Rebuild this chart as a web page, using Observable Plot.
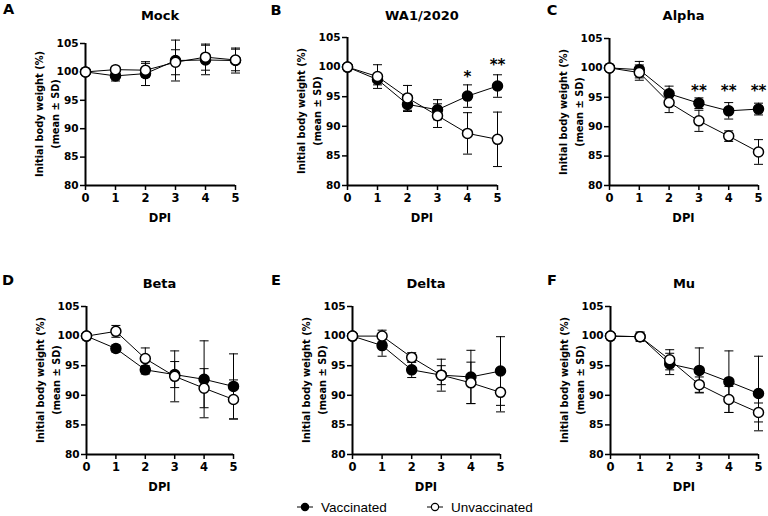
<!DOCTYPE html>
<html><head><meta charset="utf-8">
<script src="https://cdn.jsdelivr.net/npm/d3@7"></script>
<script src="https://cdn.jsdelivr.net/npm/@observablehq/plot@0.6"></script>
<style>
body{margin:0;background:#fff;}
#root{position:relative;width:768px;height:516px;overflow:hidden;background:#fff;font-family:"DejaVu Sans",sans-serif;color:#000;}
.lab{position:absolute;transform:translate(-50%,-50%);white-space:nowrap;font-weight:bold;}
.letter{font-size:14.5px;}
.title{font-size:13px;}
.dpi{font-size:11.5px;}
.ylab{position:absolute;transform:translate(-50%,-50%) rotate(-90deg);white-space:nowrap;text-align:center;font-weight:bold;font-size:9.8px;line-height:16px;}
.legend{position:absolute;top:498px;left:0;width:768px;height:18px;font-family:"Liberation Sans",Arial,sans-serif;font-size:13.5px;}
.legend .item{position:absolute;top:0;display:flex;align-items:center;height:18px;}
.legend svg{margin-right:5px;}
</style></head><body><div id="root"></div>
<script>
// ---- data ----
const days = [0, 1, 2, 3, 4, 5];
const panelTitles = ["Mock", "WA1/2020", "Alpha", "Beta", "Delta", "Mu"];
const panelLetters = ["A", "B", "C", "D", "E", "F"];
const yTicks = [80, 85, 90, 95, 100, 105];
const seriesNames = ["Vaccinated", "Unvaccinated"];

const vaccinatedMean = [
  [100, 99.3, 99.7, 102.0, 102.1, 102.0],
  [100, 97.9, 93.7, 92.8, 95.1, 96.8],
  [100, 99.7, 95.6, 94.0, 92.7, 93.0],
  [100, 97.9, 94.3, 93.5, 92.7, 91.5],
  [100, 98.4, 94.3, 93.4, 93.1, 94.1],
  [100, 99.9, 95.3, 94.2, 92.3, 90.3]
];
const vaccinatedSD = [
  [0, 0.9, 2.1, 3.6, 2.6, 2.2],
  [0, 0.9, 1.2, 1.7, 1.9, 1.9],
  [0, 1.4, 1.3, 0.9, 1.4, 1.0],
  [0, 0.6, 0.7, 2.2, 6.5, 5.5],
  [0, 1.8, 1.3, 2.7, 4.5, 5.8],
  [0, 0.8, 1.8, 3.8, 5.2, 6.3]
];
const unvaccinatedMean = [
  [100, 100.4, 100.3, 101.7, 102.6, 102.1],
  [100, 98.4, 94.8, 91.8, 88.8, 87.8],
  [100, 99.2, 94.1, 91.0, 88.4, 85.7],
  [100, 100.8, 96.2, 93.2, 91.2, 89.3],
  [100, 100.0, 96.4, 93.4, 92.1, 90.5],
  [100, 99.9, 96.0, 91.8, 89.3, 87.1]
];
const unvaccinatedSD = [
  [0, 0.5, 1.2, 2.2, 2.3, 1.9],
  [0, 2.0, 2.1, 2.0, 3.5, 4.6],
  [0, 1.3, 1.7, 1.8, 0.9, 2.1],
  [0, 1.0, 1.8, 4.3, 3.3, 3.3],
  [0, 1.0, 0.8, 1.6, 3.5, 3.3],
  [0, 0.6, 1.7, 1.3, 2.2, 1.6]
];

// significance annotations
const starPanel = [1, 1, 2, 2, 2];
const starDay = [4, 5, 3, 4, 5];
const starLabel = ["*", "**", "**", "**", "**"];
const starY = [98.9, 101.0, 96.8, 96.8, 96.8];

// ---- layout ----
const frames = [
  {left: 85, top: 43, w: 150, h: 142},
  {left: 347, top: 37, w: 150, h: 148},
  {left: 609, top: 38, w: 149, h: 147},
  {left: 86, top: 306, w: 147, h: 148},
  {left: 352, top: 306, w: 148, h: 148},
  {left: 610, top: 306, w: 148, h: 148}
];
const rowTitleY = [14.5, 14.5, 14.5, 283, 283, 283];
const letterPos = [[8.5, 9], [276, 10], [552, 10], [8, 280], [276, 280], [552, 280]];
const ML = 70, MR = 14, MT = 20, MB = 45;

const root = document.getElementById("root");
const capSymbol = {draw(ctx, size) { const r = Math.sqrt(size / Math.PI); ctx.moveTo(-r, 0); ctx.lineTo(r, 0); }};

function addLabel(cls, text, x, y) {
  const d = document.createElement("div");
  d.className = "lab " + cls;
  d.textContent = text;
  d.style.left = x + "px"; d.style.top = y + "px";
  root.appendChild(d);
}

panelTitles.forEach((title, i) => {
  const fr = frames[i];
  const rows = [];
  days.forEach((d, k) => {
    rows.push({series: seriesNames[0], day: d, mean: vaccinatedMean[i][k], sd: vaccinatedSD[i][k]});
  });
  days.forEach((d, k) => {
    rows.push({series: seriesNames[1], day: d, mean: unvaccinatedMean[i][k], sd: unvaccinatedSD[i][k]});
  });
  const vac = rows.filter(r => r.series === seriesNames[0]);
  const unv = rows.filter(r => r.series === seriesNames[1]);
  const err = rows.filter(r => r.sd > 0);
  const stars = starPanel.map((p, j) => ({p, day: starDay[j], label: starLabel[j], y: starY[j]})).filter(s => s.p === i);

  const svg = Plot.plot({
    width: ML + fr.w + MR,
    height: MT + fr.h + MB,
    marginLeft: ML, marginRight: MR, marginTop: MT, marginBottom: MB,
    x: {domain: [0, 5]},
    y: {domain: [80, 105]},
    style: {background: "transparent", overflow: "visible", maxWidth: "none", fontFamily: "DejaVu Sans", fontSize: "10px", fontWeight: "bold", color: "black"},
    marks: [
      Plot.axisY({ticks: yTicks, tickSize: 5, tickPadding: 2, strokeWidth: 1.5, label: null, fontWeight: "bold", fontSize: 10.5}),
      Plot.axisX({ticks: days, tickSize: 5, tickPadding: 3, strokeWidth: 1.5, label: null, tickFormat: d => String(d), fontWeight: "bold", fontSize: 11.5}),
      Plot.ruleX([0], {y1: 80, y2: 105, stroke: "black", strokeWidth: 2}),
      Plot.ruleY([80], {x1: 0, x2: 5, stroke: "black", strokeWidth: 2}),
      Plot.ruleX(err, {x: "day", y1: d => d.mean - d.sd, y2: d => d.mean + d.sd, stroke: "black", strokeWidth: 1}),
      Plot.dot(err, {x: "day", y: d => d.mean - d.sd, symbol: capSymbol, r: 4.5, stroke: "black", strokeWidth: 1, fill: "none"}),
      Plot.dot(err, {x: "day", y: d => d.mean + d.sd, symbol: capSymbol, r: 4.5, stroke: "black", strokeWidth: 1, fill: "none"}),
      Plot.line(vac, {x: "day", y: "mean", stroke: "black", strokeWidth: 1}),
      Plot.line(unv, {x: "day", y: "mean", stroke: "black", strokeWidth: 1}),
      Plot.dot(vac, {x: "day", y: "mean", r: 5, fill: "black", stroke: "black", strokeWidth: 1.5}),
      Plot.dot(unv, {x: "day", y: "mean", r: 5, fill: "white", stroke: "black", strokeWidth: 1.5}),
      Plot.text(stars, {x: "day", y: "y", text: "label", fontSize: 15, fontWeight: "bold", fill: "black", dy: 4})
    ]
  });
  svg.style.position = "absolute";
  svg.style.left = (fr.left - ML) + "px";
  svg.style.top = (fr.top - MT) + "px";
  root.appendChild(svg);

  addLabel("title", title, fr.left + fr.w / 2, rowTitleY[i]);
  addLabel("letter", panelLetters[i], letterPos[i][0], letterPos[i][1]);
  addLabel("dpi", "DPI", fr.left + fr.w / 2, fr.top + fr.h + 33);

  const yl = document.createElement("div");
  yl.className = "ylab";
  yl.innerHTML = "Initial body weight (%)<br>(mean ± SD)";
  yl.style.left = (fr.left - 37.5) + "px";
  yl.style.top = (fr.top + fr.h / 2) + "px";
  root.appendChild(yl);
});

// legend
const legend = document.createElement("div");
legend.className = "legend";
const legendX = [296, 426];
seriesNames.forEach((name, j) => {
  const item = document.createElement("div");
  item.className = "item";
  item.style.left = legendX[j] + "px";
  item.innerHTML = `<svg width="20" height="12"><line x1="1" x2="17" y1="6" y2="6" stroke="black" stroke-width="1"/><circle cx="9" cy="6" r="3.6" fill="${j === 0 ? "black" : "white"}" stroke="black" stroke-width="1.2"/></svg><span>${name}</span>`;
  legend.appendChild(item);
});
root.appendChild(legend);
</script>
</body></html>
